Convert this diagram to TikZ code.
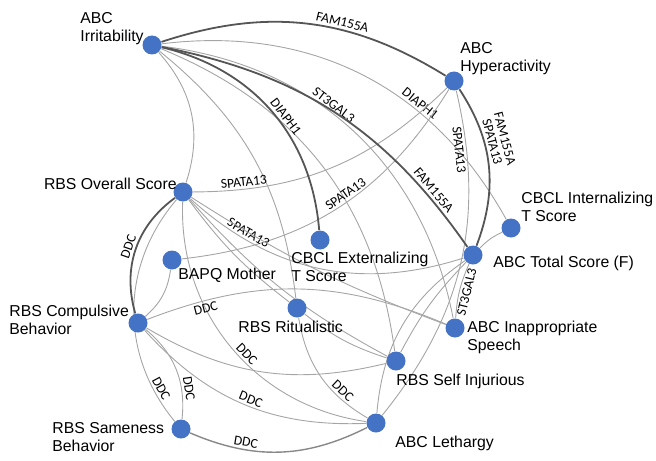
\documentclass[tikz,border=0pt]{standalone}
\usepackage{fontspec}
\setmainfont{Liberation Sans}
\newfontfamily\genefont{Carlito}
\usetikzlibrary{backgrounds}

\definecolor{dotblue}{RGB}{68,114,196}
\definecolor{thingray}{RGB}{165,165,165}
\definecolor{darkedge}{RGB}{85,85,85}

\tikzset{
  vdot/.style={circle, fill=dotblue, minimum size=9.5pt, inner sep=0pt},
  vlabel/.style={inner sep=0pt, anchor=north west, align=left, font=\fontsize{7.9}{9}\selectfont},
  link/.style={draw=thingray, line width=0.45pt},
  strong/.style={draw=darkedge, line width=0.9pt},
  gene/.style={sloped, inner sep=1.2pt, font=\genefont\fontsize{6.8}{7}\selectfont},
}

\begin{document}
\begin{tikzpicture}[x=0.5pt, y=-0.5pt]
    \useasboundingbox (0,0) rectangle (656,460);

    % draw the measures
    \node[vdot] (Irr)   at (152,45)  {};
    \node[vdot] (Hyp)   at (454,81)  {};
    \node[vdot] (RBSO)  at (183,192) {};
    \node[vdot] (CBCLI) at (511,228) {};
    \node[vdot] (CBCLE) at (320,240) {};
    \node[vdot] (Tot)   at (473,255) {};
    \node[vdot] (BAPQ)  at (172,260) {};
    \node[vdot] (Comp)  at (138,323) {};
    \node[vdot] (Rit)   at (297,308) {};
    \node[vdot] (Inap)  at (455,328) {};
    \node[vdot] (SI)    at (396,361) {};
    \node[vdot] (Sam)   at (181,429) {};
    \node[vdot] (Leth)  at (376,423) {};

    % write the measure names
    \node[vlabel] (IrrText)   at (80,12)   {ABC\\Irritability};
    \node[vlabel] (HypText)   at (460,42)  {ABC\\Hyperactivity};
    \node[vlabel, anchor=north east] (RBSOText) at (177,178) {RBS Overall Score};
    \node[vlabel] (CBCLIText) at (521,192) {CBCL Internalizing\\T Score};
    \node[vlabel] (CBCLEText) at (291,252) {CBCL Externalizing\\T Score};
    \node[vlabel] (TotText)   at (493,256) {ABC Total Score (F)};
    \node[vlabel] (BAPQText)  at (178,268) {BAPQ Mother};
    \node[vlabel] (CompText)  at (9,305)   {RBS Compulsive\\Behavior};
    \node[vlabel] (RitText)   at (238,321) {RBS Ritualistic};
    \node[vlabel] (InapText)  at (467,321) {ABC Inappropriate\\Speech};
    \node[vlabel] (SIText)    at (396,374) {RBS Self Injurious};
    \node[vlabel] (SamText)   at (52,422)  {RBS Sameness\\Behavior};
    \node[vlabel] (LethText)  at (395,436) {ABC Lethargy};

    \begin{scope}[on background layer]
    % draw thin links
    \draw[link] (Irr) to[bend left=30] (RBSO);
    \draw[link] (Irr) to[bend left=22] (Rit);
    \draw[link] (Irr) to[bend left=30] (SI);
    \draw[link] (Irr) to[bend left=36] node[gene, pos=0.42, above] {ST3GAL3} (Inap);
    \draw[link] (Irr) to[bend left=34] node[gene, pos=0.66, above] {DIAPH1} (CBCLI);
    \draw[link] (Hyp) to[bend left=22] node[gene, pos=0.83, above] {SPATA13} (RBSO);
    \draw[link] (Hyp) to[bend left=26] node[gene, pos=0.45, above] {SPATA13} (BAPQ);
    \draw[link] (Hyp) to[bend left=26] node[gene, pos=0.16, below] {SPATA13} (Leth);
    \draw[link] (RBSO) to[bend right=30] node[gene, pos=0.22, above] {SPATA13} (Tot);
    \draw[link] (RBSO) to[bend right=40] node[gene, pos=0.86, above] {DDC} (Sam);
    \draw[link] (RBSO) to[bend right=42] node[gene, pos=0.55, above] {DDC} (Leth);
    \draw[link] (RBSO) to[bend right=8] (Rit);
    \draw[link] (RBSO) to[bend right=10] (SI);
    \draw[link] (RBSO) to[bend right=6] (Inap);
    \draw[link] (BAPQ) to[bend left=20] (Comp);
    \draw[link] (Comp) to[bend left=22] node[gene, pos=0.18, below] {DDC} (Inap);
    \draw[link] (Comp) to[bend right=22] (SI);
    \draw[link] (Comp) to[bend right=25] node[gene, pos=0.52, above] {DDC} (Leth);
    \draw[link] (Comp) to[bend left=28] node[gene, pos=0.72, above] {DDC} (Sam);
    \draw[link] (Rit) to[bend right=25] node[gene, pos=0.72, above] {DDC} (Leth);
    \draw[link] (Rit) to[bend right=10] (SI);
    \draw[link] (Tot) to[bend right=10] node[gene, pos=0.5, below] {ST3GAL3} (Inap);
    \draw[link] (Tot) to[bend right=8] (SI);
    \draw[link] (Tot) to[bend right=25] (Leth);
    \draw[link] (Tot) to[bend left=10] (CBCLI);

    % draw strong links
    \draw[strong] (Irr) to[bend left=25] node[gene, pos=0.62, above] {FAM155A} (Hyp);
    \draw[strong] (Irr) to[bend left=22] node[gene, pos=0.84, above] {FAM155A} (Tot);
    \draw[strong] (Irr) to[bend left=36] node[gene, pos=0.55, above] {DIAPH1} (CBCLE);
    \draw[strong] (Hyp) to[bend left=27] node[gene, pos=0.36, above] {SPATA13}
                                         node[gene, pos=0.36, above=6.5pt] {FAM155A} (Tot);
    \draw[strong] (RBSO) to[bend right=35] node[gene, pos=0.5, above] {DDC} (Comp);
    \draw[link, line width=0.7pt, draw=darkedge!70] (Sam) to[bend right=25] node[gene, pos=0.3, above] {DDC} (Leth);
    \end{scope}
\end{tikzpicture}
\end{document}
